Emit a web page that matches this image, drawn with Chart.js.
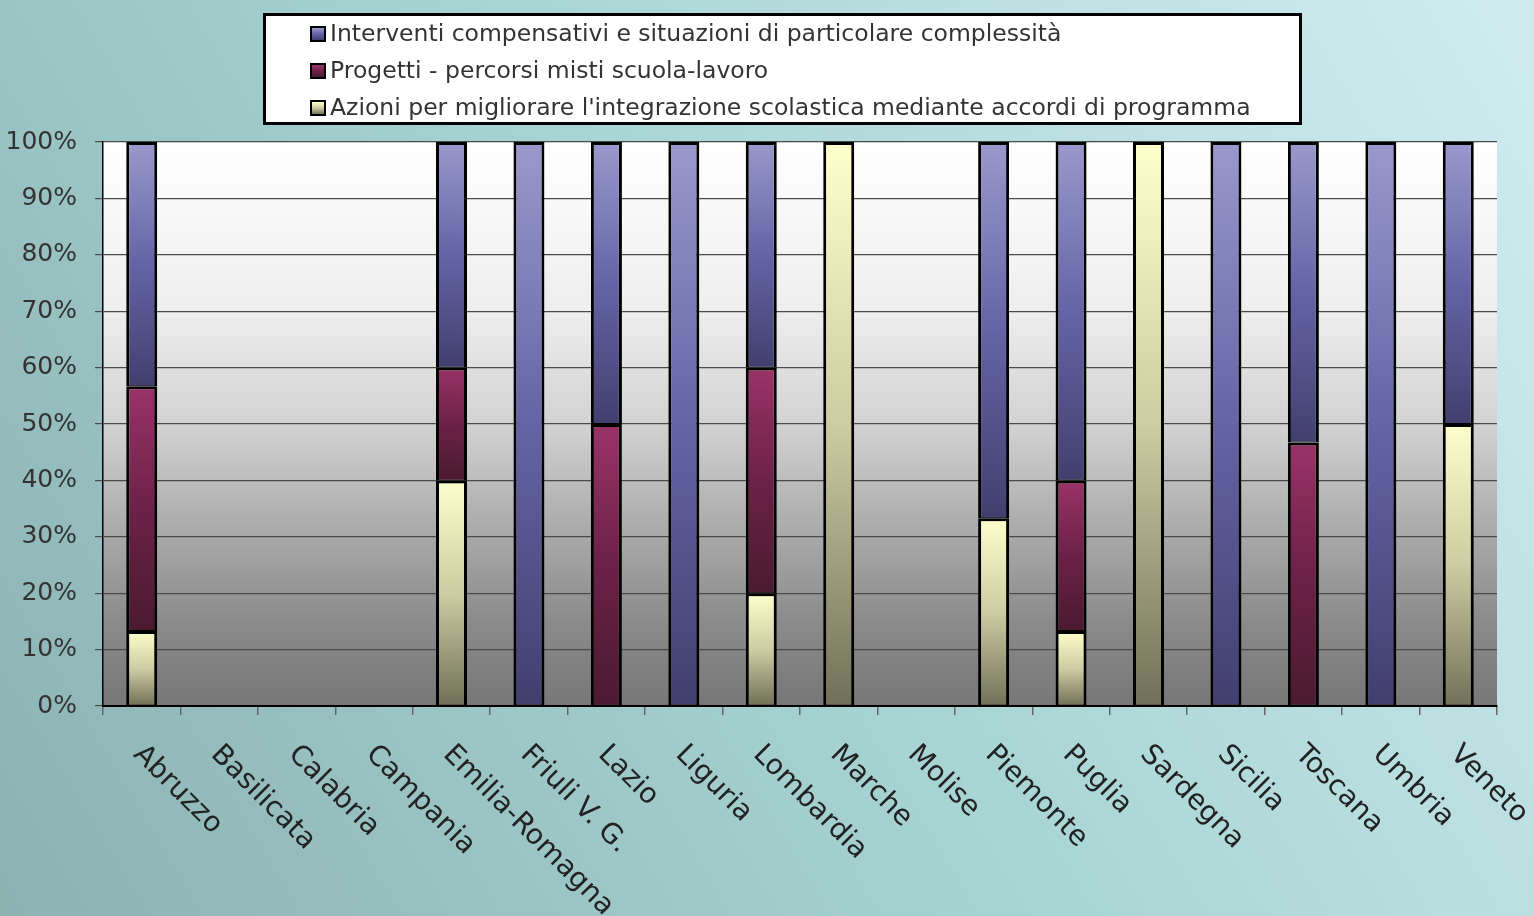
<!DOCTYPE html>
<html>
<head>
<meta charset="utf-8">
<script src="https://cdn.jsdelivr.net/npm/chart.js@4/dist/chart.umd.min.js"></script>
<style>
  html, body { margin: 0; padding: 0; }
  body { width: 1534px; height: 916px; position: relative; overflow: hidden; }
  #chart { position: absolute; left: 0; top: 0; }
  #legend {
    position: absolute; left: 263px; top: 13px; width: 1033px; height: 106px;
    border: 3px solid #000; background: #fff;
    font-family: "DejaVu Sans", sans-serif; font-size: 23.5px; color: #333;
  }
  #legend .row { position: relative; top: -1px; height: 37px; line-height: 37px; padding-left: 44px; white-space: nowrap; }
  #legend .box {
    display: inline-block; width: 12px; height: 12px; border: 2px solid #000;
    vertical-align: -1px; margin-right: 4px;
  }
</style>
</head>
<body>
<canvas id="chart" width="1534" height="916"></canvas>
<div id="legend"></div>
<script>
'use strict';

// regions on the x axis
const regions = ['Abruzzo', 'Basilicata', 'Calabria', 'Campania', 'Emilia-Romagna',
  'Friuli V. G.', 'Lazio', 'Liguria', 'Lombardia', 'Marche', 'Molise', 'Piemonte',
  'Puglia', 'Sardegna', 'Sicilia', 'Toscana', 'Umbria', 'Veneto'];

// share of each kind of project per region (%), bottom to top of the stack
const azioni     = [13.3, 0, 0, 0, 40, 0,   0,  0,   20, 100, 0, 33.3, 13.3, 100, 0,   0,    0,   50];
const progetti   = [43.4, 0, 0, 0, 20, 0,   50, 0,   40, 0,   0, 0,    26.7, 0,   0,   46.7, 0,   0];
const interventi = [43.3, 0, 0, 0, 40, 100, 50, 100, 40, 0,   0, 66.7, 60,   0,   100, 53.3, 100, 50];

const yTicks = [0, 10, 20, 30, 40, 50, 60, 70, 80, 90, 100];

// gradient stops, light at the top of each segment, dark at its foot
const shades = {
  azioni:     ['#ffffcc', '#cdcca2', '#707058'],
  progetti:   ['#993366', '#6c2148', '#4a1a30'],
  interventi: ['#9999cc', '#6464a6', '#423f6e']
};

const series = [
  { key: 'azioni', label: "Azioni per migliorare l'integrazione scolastica mediante accordi di programma", data: azioni },
  { key: 'progetti', label: 'Progetti - percorsi misti scuola-lavoro', data: progetti },
  { key: 'interventi', label: 'Interventi compensativi e situazioni di particolare complessità', data: interventi }
];

function barFill(ctx) {
  const chart = ctx.chart;
  const stops = shades[series[ctx.datasetIndex].key];
  const y = chart.scales.y;
  if (!chart.chartArea || !y) return stops[1];
  let base = 0;
  for (let d = 0; d < ctx.datasetIndex; d++) base += series[d].data[ctx.dataIndex];
  const top = base + series[ctx.datasetIndex].data[ctx.dataIndex];
  const y0 = y.getPixelForValue(top), y1 = y.getPixelForValue(base);
  if (y1 - y0 < 1) return stops[1];
  const g = chart.ctx.createLinearGradient(0, y0, 0, y1);
  g.addColorStop(0, stops[0]);
  g.addColorStop(0.5, stops[1]);
  g.addColorStop(1, stops[2]);
  return g;
}

// page and plot backgrounds
const backdrop = {
  id: 'backdrop',
  beforeDraw(chart) {
    const c = chart.ctx, a = chart.chartArea;
    c.save();
    const bg = c.createLinearGradient(0, chart.height, chart.width, 0);
    bg.addColorStop(0, '#8cb2b2');
    bg.addColorStop(0.5, '#a8d4d4');
    bg.addColorStop(1, '#d0ecf0');
    c.fillStyle = bg;
    c.fillRect(0, 0, chart.width, chart.height);
    const pg = c.createLinearGradient(0, a.top, 0, a.bottom);
    pg.addColorStop(0, '#ffffff');
    pg.addColorStop(0.3, '#eeeeee');
    pg.addColorStop(0.5, '#d2d2d2');
    pg.addColorStop(0.7, '#a8a8a8');
    pg.addColorStop(0.85, '#8b8b8b');
    pg.addColorStop(1, '#777777');
    c.fillStyle = pg;
    c.fillRect(a.left, a.top, a.right - a.left, a.bottom - a.top);
    c.restore();
  }
};

// slanted region names under the axis
const slantedLabels = {
  id: 'slantedLabels',
  afterDraw(chart) {
    const c = chart.ctx, x = chart.scales.x;
    c.save();
    c.font = '28px "DejaVu Sans", sans-serif';
    c.fillStyle = '#222';
    c.textAlign = 'left';
    c.textBaseline = 'middle';
    regions.forEach(function(name, i) {
      c.save();
      c.translate(x.getPixelForValue(i) - 4, chart.chartArea.bottom + 44);
      c.rotate(Math.PI / 4);
      c.fillText(name, 0, 0);
      c.restore();
    });
    c.restore();
  }
};

const chart = new Chart(document.getElementById('chart'), {
  type: 'bar',
  data: {
    labels: regions,
    datasets: series.map(function(s) {
      return {
        label: s.label,
        data: s.data,
        backgroundColor: barFill,
        borderColor: '#000',
        borderWidth: { top: 3, left: 3, right: 3, bottom: 1 },
        borderSkipped: false,
        inflateAmount: 0,
        barPercentage: 0.8,
        categoryPercentage: 0.5
      };
    })
  },
  options: {
    responsive: false,
    animation: false,
    layout: { padding: { top: 142, right: 37, left: 0, bottom: 0 } },
    plugins: {
      legend: { display: false },
      tooltip: { enabled: false }
    },
    scales: {
      x: {
        stacked: true,
        grid: { offset: true, drawOnChartArea: false, tickLength: 9, color: '#666', lineWidth: 1.5 },
        border: { color: '#000', width: 2 },
        ticks: { display: false },
        afterFit(scale) { scale.height = 210; }
      },
      y: {
        stacked: true,
        min: 0,
        max: 100,
        afterBuildTicks(scale) { scale.ticks = yTicks.map(function(v) { return { value: v }; }); },
        ticks: {
          padding: 18,
          color: '#333',
          font: { family: '"DejaVu Sans", sans-serif', size: 25 },
          callback: function(v) { return v + '%'; }
        },
        grid: { color: '#4a4a4a', lineWidth: 1.2, tickLength: 8 },
        border: { color: '#000', width: 1.5 },
        afterFit(scale) { scale.width = 103; }
      }
    }
  },
  plugins: [backdrop, slantedLabels]
});

// legend box, top series first
const legend = document.getElementById('legend');
series.slice().reverse().forEach(function(s) {
  const st = shades[s.key];
  const row = document.createElement('div');
  row.className = 'row';
  const box = document.createElement('span');
  box.className = 'box';
  box.style.background = 'linear-gradient(' + st[0] + ',' + st[1] + ',' + st[2] + ')';
  row.appendChild(box);
  row.appendChild(document.createTextNode(s.label));
  legend.appendChild(row);
});
</script>
</body>
</html>
